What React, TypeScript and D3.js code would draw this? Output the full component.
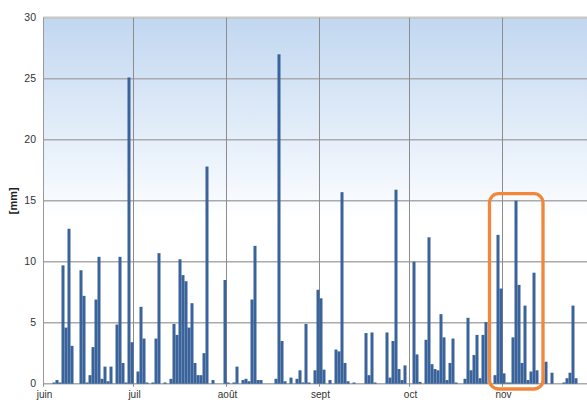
import { scaleLinear, scaleTime, timeDay, timeMonth } from "d3";

// daily precipitation [mm], one value per day
const juin = [0, 0, 0, 0.1, 0.3, 0.1, 9.7, 4.6, 12.7, 3.1, 0, 0, 9.3, 7.2, 0.1, 0.7, 3.0, 6.9, 10.4, 0.4, 1.4, 0.2, 1.4, 0, 4.85, 10.4, 1.7, 0.1, 25.1, 3.4];
const juil = [0, 1.0, 6.3, 3.7, 0.1, 0, 0.1, 3.7, 10.7, 0, 0.1, 0, 0.4, 4.9, 4.0, 10.2, 8.9, 8.4, 4.6, 6.6, 1.7, 0.7, 0.7, 2.5, 17.8, 0, 0.3, 0, 0, 0, 8.5];
const aout = [0.1, 0, 0.1, 1.4, 0, 0.3, 0.4, 0.2, 6.9, 11.3, 0.3, 0.3, 0, 0, 0, 0, 0.4, 27.0, 3.5, 0.2, 0, 0.5, 0, 0.4, 1.1, 0.1, 4.9, 0.1, 0, 1.1, 7.7];
const sept = [7.0, 1.15, 0, 0.3, 0, 2.8, 2.65, 15.7, 1.7, 0.2, 0, 0.1, 0, 0, 0, 4.15, 0.7, 4.2, 0.1, 0, 0, 0, 4.2, 0.5, 3.5, 15.9, 1.2, 0.3, 1.5, 0];
const oct = [0, 10.0, 2.4, 0.15, 0, 3.6, 12.0, 1.6, 1.2, 1.1, 5.7, 3.8, 0.3, 1.7, 3.7, 0.1, 0, 0, 0.4, 5.4, 1.1, 2.35, 4.0, 0.45, 4.0, 5.05, 0, 0, 0.7, 12.2, 7.8];
const nov = [0.85, 0.1, 0.1, 3.8, 15.0, 8.1, 1.7, 6.4, 0.3, 1.0, 9.1, 1.1, 0, 0, 1.8, 0, 0.9, 0, 0, 0, 0.1, 0.45, 0.9, 6.4, 0.45, 0, 0];

const monthLabels = ["juin", "juil", "août", "sept", "oct", "nov"];
const yTicks = [0, 5, 10, 15, 20, 25, 30];

// highlighted period (orange box)
const highlightFrom = new Date(2010, 9, 29);
const highlightTo = new Date(2010, 10, 14);
const highlightMax = 15;

const start = new Date(2010, 5, 1);
const end = new Date(2010, 11, 1);

export default function App() {
  const values = [...juin, ...juil, ...aout, ...sept, ...oct, ...nov];
  const data = values.map((v, i) => ({ date: timeDay.offset(start, i), value: v }));

  const left = 43.5;
  const x = scaleTime().domain([start, end]).range([left, left + 183 * 3.0]);
  const y = scaleLinear().domain([0, 30]).range([383.7, 17.7]);
  const months = timeMonth.range(start, timeMonth.offset(start, 6));

  const bx0 = x(highlightFrom) - 4;
  const bx1 = x(highlightTo) + 1.5;
  const by0 = y(highlightMax) - 7;
  const by1 = y(0) + 5.3;

  return (
    <svg
      width={587}
      height={400}
      style={{ position: "absolute", left: 0, top: 0, display: "block" }}
      fontFamily="'Liberation Sans', Arial, sans-serif"
    >
      <defs>
        <linearGradient id="bg" x1="0" y1="0" x2="0" y2="1">
          <stop offset="0" stopColor="#c1d7f0" />
          <stop offset="0.45" stopColor="#f2f7fd" />
          <stop offset="0.55" stopColor="#ffffff" />
        </linearGradient>
      </defs>
      <rect x={left} y={y(30)} width={600} height={y(0) - y(30)} fill="url(#bg)" />

      {/* horizontal grid */}
      {yTicks.map((t) => (
        <line key={t} x1={left} x2={600} y1={y(t)} y2={y(t)} stroke="#aaaaaa" strokeWidth={1.5} />
      ))}
      <line x1={left} x2={600} y1={y(30)} y2={y(30)} stroke="#c8c8c8" strokeWidth={2.5} />

      {/* month grid */}
      {months.map((m, i) => (
        <g key={i}>
          <line x1={x(m)} x2={x(m)} y1={y(30)} y2={y(0) + 3} stroke="#8c8c8c" strokeWidth={1} />
          <text x={x(m) + 1} y={398} fontSize={10} fill="#333" textAnchor="middle">
            {monthLabels[i]}
          </text>
        </g>
      ))}

      {/* bars */}
      {data.map((d, i) => (
        <rect
          key={i}
          x={x(d.date)}
          y={y(d.value)}
          width={x(timeDay.offset(d.date, 1)) - x(d.date)}
          height={y(0) - y(d.value)}
          fill="#39639a"
        />
      ))}

      {/* y axis */}
      <line x1={left} x2={left} y1={y(30)} y2={y(0)} stroke="#999" strokeWidth={1} />
      {yTicks.map((t) => (
        <text key={t} x={36} y={y(t) + 3.5} fontSize={10.5} fill="#333" textAnchor="end">
          {t}
        </text>
      ))}
      <text
        transform={`translate(17, ${y(15)}) rotate(-90)`}
        fontSize={11}
        fontWeight="bold"
        textAnchor="middle"
        fill="#222"
      >
        [mm]
      </text>

      <rect
        x={bx0}
        y={by0}
        width={bx1 - bx0}
        height={by1 - by0}
        rx={9}
        fill="none"
        stroke="#f0873a"
        strokeWidth={3.3}
      />
    </svg>
  );
}
